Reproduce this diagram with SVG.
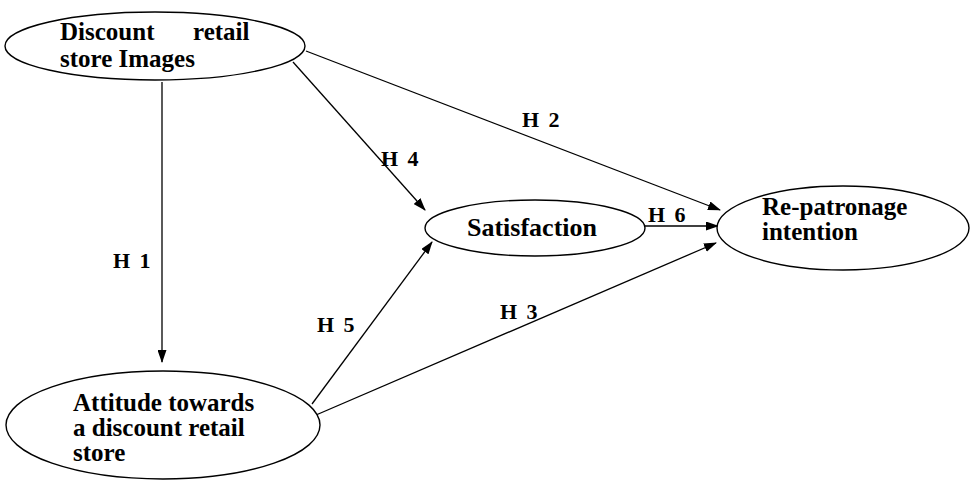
<svg xmlns="http://www.w3.org/2000/svg" width="970" height="483" viewBox="0 0 970 483">
<defs>
<marker id="ah" markerWidth="13" markerHeight="9" refX="12" refY="4.5" orient="auto" markerUnits="userSpaceOnUse">
<path d="M0,0 L13,4.5 L0,9 Z" fill="#000"/>
</marker>
</defs>
<rect width="970" height="483" fill="#fff"/>
<g id="connectors" stroke="#000" stroke-width="1.3" fill="none" marker-end="url(#ah)">
<line x1="162" y1="82" x2="162" y2="362"/>
<line x1="306" y1="51" x2="720" y2="210"/>
<line x1="293" y1="62" x2="425" y2="210"/>
<line x1="645" y1="226" x2="718" y2="226"/>
<line x1="312" y1="404" x2="432" y2="242"/>
<line x1="316" y1="415" x2="716" y2="243"/>
</g>
<g id="labels" fill="#000">
<text font-family="'Liberation Serif'" font-size="22" font-weight="bold" word-spacing="4" x="113" y="268">H 1</text>
<text font-family="'Liberation Serif'" font-size="22" font-weight="bold" word-spacing="4" x="522" y="127">H 2</text>
<text font-family="'Liberation Serif'" font-size="22" font-weight="bold" word-spacing="4" x="500" y="319">H 3</text>
<text font-family="'Liberation Serif'" font-size="22" font-weight="bold" word-spacing="4" x="381" y="166">H 4</text>
<text font-family="'Liberation Serif'" font-size="22" font-weight="bold" word-spacing="4" x="317" y="332">H 5</text>
<text font-family="'Liberation Serif'" font-size="22" font-weight="bold" word-spacing="4" x="648" y="222">H 6</text>
</g>
<g id="node-images">
<ellipse cx="155" cy="46" rx="150" ry="34" fill="#fff" stroke="#000" stroke-width="1.4"/>
<text font-family="'Liberation Serif'" font-size="25" font-weight="bold" x="60" y="40">Discount</text>
<text font-family="'Liberation Serif'" font-size="25" font-weight="bold" x="193" y="40">retail</text>
<text font-family="'Liberation Serif'" font-size="25" font-weight="bold" x="60" y="67">store Images</text>
</g>
<g id="node-attitude">
<ellipse cx="163" cy="425" rx="157" ry="54" fill="#fff" stroke="#000" stroke-width="1.4"/>
<text font-family="'Liberation Serif'" font-size="25" font-weight="bold" x="73" y="411">Attitude towards</text>
<text font-family="'Liberation Serif'" font-size="25" font-weight="bold" x="73" y="436">a discount retail</text>
<text font-family="'Liberation Serif'" font-size="25" font-weight="bold" x="73" y="461">store</text>
</g>
<g id="node-satisfaction">
<ellipse cx="535" cy="228" rx="110" ry="28" fill="#fff" stroke="#000" stroke-width="1.4"/>
<text font-family="'Liberation Serif'" font-size="26" font-weight="bold" x="467" y="236">Satisfaction</text>
</g>
<g id="node-repatronage">
<ellipse cx="843" cy="228" rx="126" ry="42" fill="#fff" stroke="#000" stroke-width="1.4"/>
<text font-family="'Liberation Serif'" font-size="25" font-weight="bold" x="762" y="215">Re-patronage</text>
<text font-family="'Liberation Serif'" font-size="25" font-weight="bold" x="762" y="240">intention</text>
</g>
</svg>
